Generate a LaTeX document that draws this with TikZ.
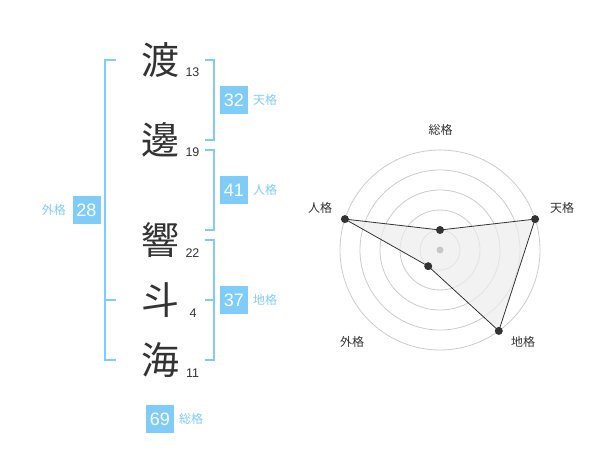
\documentclass[tikz,border=0pt]{standalone}
\usepackage{fontspec}
\setmainfont{Liberation Sans}
\newfontfamily\jp{Noto Sans CJK JP}
\definecolor{kblue}{RGB}{128,204,248}
\definecolor{ink}{RGB}{51,51,51}
\begin{document}
\begin{tikzpicture}[x=1pt,y=-1pt,
 kanji/.style={font=\jp\fontsize{38}{38}\selectfont, text=ink, inner sep=0},
 strokes/.style={font=\fontsize{12.5}{12.5}\selectfont, text=ink, inner sep=0},
 valbox/.style={fill=kblue, text=white, minimum size=28pt, inner sep=0, font=\fontsize{18}{18}\selectfont},
 vallab/.style={text=kblue, font=\jp\fontsize{12}{12}\selectfont, inner sep=0},
 brk/.style={draw=kblue, line width=2pt},
 ring/.style={draw=black!20, line width=0.8pt},
 axlab/.style={text=ink, font=\jp\fontsize{12}{12}\selectfont, inner sep=0},
 vdot/.style={circle, fill=ink, inner sep=0, minimum size=8pt},
 poly/.style={draw=ink, line width=0.8pt, fill=black!7, fill opacity=0.7}]
\fill[white] (0,0) rectangle (600,470);
\useasboundingbox (0,0) rectangle (600,470);
% kanji
\node[kanji] (k1) at (160,60) {渡};
\node[kanji] (k2) at (160,140) {邊};
\node[kanji] (k3) at (160,240) {響};
\node[kanji] (k4) at (160,300) {斗};
\node[kanji] (k5) at (160,360) {海};
\node[strokes] (s1) at (192.5,72.7) {13};
\node[strokes] (s2) at (192.5,152) {19};
\node[strokes] (s3) at (192.5,253) {22};
\node[strokes] (s4) at (193,313) {4};
\node[strokes] (s5) at (192.5,373) {11};
% brackets
\draw[brk] (116,60) -- (105,60) -- (105,360) -- (116,360);
\draw[brk] (105,300) -- (116,300);
\draw[brk] (205,60) -- (214,60) -- (214,140) -- (205,140);
\draw[brk] (205,150) -- (214,150) -- (214,230) -- (205,230);
\draw[brk] (205,240) -- (214,240) -- (214,360) -- (205,360);
\draw[brk] (205,300) -- (214,300);
% values
\node[valbox] (v1) at (234,100) {32};
\node[vallab, anchor=west] (l1) at (253,100) {天格};
\node[valbox] (v2) at (234,190) {41};
\node[vallab, anchor=west] (l2) at (253,190) {人格};
\node[valbox] (v3) at (234,300) {37};
\node[vallab, anchor=west] (l3) at (253,300) {地格};
\node[valbox] (v4) at (86.5,210) {28};
\node[vallab, anchor=east] (l4) at (66,210) {外格};
\node[valbox] (v5) at (160,419) {69};
\node[vallab, anchor=west] (l5) at (179,419) {総格};
% radar
\foreach \r in {20,40,60,80,100} \draw[ring] (440,250) circle[radius=\r];
\coordinate (ps) at (440,230);
\coordinate (pt) at (535.1,219.1);
\coordinate (pc) at (498.8,330.9);
\coordinate (pg) at (428.2,266.2);
\coordinate (pj) at (344.9,219.1);
\draw[poly] (ps) -- (pt) -- (pc) -- (pg) -- (pj) -- cycle;
\fill[black!22] (440,250) circle[radius=3.5];
\foreach \p in {ps,pt,pc,pg,pj} \node[vdot] at (\p) {};
\node[axlab] (as) at (440.5,130) {総格};
\node[axlab] (at) at (562,208) {天格};
\node[axlab] (aj) at (320,208) {人格};
\node[axlab] (ag) at (352,342) {外格};
\node[axlab] (ac) at (523,342) {地格};
\end{tikzpicture}
\end{document}
